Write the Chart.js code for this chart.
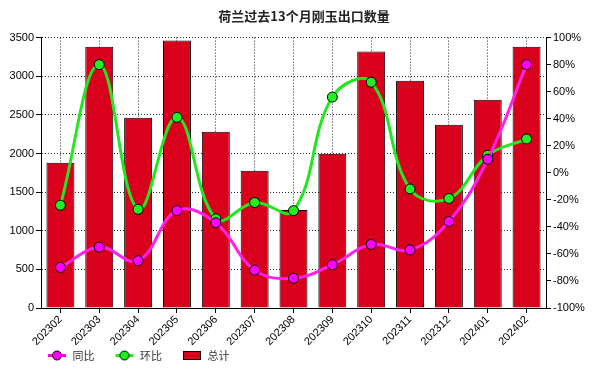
<!DOCTYPE html>
<html><head><meta charset="utf-8">
<script src="https://cdn.jsdelivr.net/npm/chart.js@4/dist/chart.umd.min.js"></script>
<style>html,body{margin:0;padding:0;background:#fff}#c{display:block}</style>
</head><body>
<canvas id="c" width="607" height="374"></canvas>
<script>
const categories = ['202302','202303','202304','202305','202306','202307','202308','202309','202310','202311','202312','202401','202402'];
const totals = [1880,3383,2463,3461,2281,1776,1270,1996,3319,2943,2372,2696,3383];
const yoy = [-70,-55,-65,-28,-37,-72,-78,-68,-53,-57,-36,10,80];
const mom = [-24,80,-27,41,-34,-22,-28,56,67,-12,-19,13,25];
const leftTicks = [0,500,1000,1500,2000,2500,3000,3500];
const rightTicks = [-100,-80,-60,-40,-20,0,20,40,60,80,100];

// legend marker images: 36px wide box, visible marker in the right 18-20px
function marker(color){
  const c=document.createElement('canvas'); c.width=36; c.height=11;
  const x=c.getContext('2d');
  x.strokeStyle=color; x.lineWidth=3; x.beginPath(); x.moveTo(17,5.5); x.lineTo(35,5.5); x.stroke();
  x.beginPath(); x.arc(26,5.5,4.5,0,Math.PI*2); x.fillStyle=color; x.fill(); x.lineWidth=1; x.strokeStyle='#000'; x.stroke();
  return c;
}
function box(){
  const c=document.createElement('canvas'); c.width=36; c.height=9;
  const x=c.getContext('2d');
  x.fillStyle='#d9001b'; x.fillRect(17,0,18,9); x.strokeStyle='#000'; x.lineWidth=1; x.strokeRect(17.5,0.5,17,8);
  return c;
}
const markers=[marker('#ff00ff'),marker('#22ee22'),box()];
const font="'Liberation Sans', Arial, sans-serif";

new Chart(document.getElementById('c'),{
  data:{labels:categories,datasets:[
    {type:'line',label:'同比',data:yoy,yAxisID:'y1',borderColor:'#ff22ee',backgroundColor:'#ff00ff',borderWidth:3,
     pointRadius:5,pointBorderColor:'#000',pointBorderWidth:1,pointBackgroundColor:'#ff00ff',tension:0.4,order:0},
    {type:'line',label:'环比',data:mom,yAxisID:'y1',borderColor:'#22e622',backgroundColor:'#22ee22',borderWidth:3,
     pointRadius:5,pointBorderColor:'#000',pointBorderWidth:1,pointBackgroundColor:'#22ee22',tension:0.4,order:1},
    {type:'bar',label:'总计',data:totals,yAxisID:'y',backgroundColor:'#d9001b',borderColor:'#000',borderWidth:1,
     categoryPercentage:0.72,barPercentage:1,order:2}
  ]},
  options:{
    responsive:false,animation:false,
    layout:{padding:{left:1,right:0,top:0,bottom:0}},
    plugins:{
      title:{display:true,text:'荷兰过去13个月刚玉出口数量',color:'#222',font:{family:"'Noto Sans CJK SC', sans-serif",size:13,weight:'bold'},padding:{top:8,bottom:14}},
      legend:{position:'bottom',align:'start',labels:{usePointStyle:true,pointStyleWidth:36,color:'#333',font:{family:"'Noto Sans CJK SC', sans-serif",size:11},padding:4,
        generateLabels(chart){return chart.data.datasets.map((d,i)=>({text:d.label,pointStyle:markers[i],fillStyle:'#000',strokeStyle:'#000',lineWidth:0,datasetIndex:i,fontColor:'#333'}));}}},
      tooltip:{enabled:false}
    },
    scales:{
      x:{offset:true,grid:{offset:false,display:true,drawOnChartArea:true,color:'rgba(0,0,0,0.85)',tickLength:5,tickColor:'#000'},
         border:{display:true,color:'#000',dash:[1,2]},
         ticks:{color:'#000',font:{family:font,size:11},minRotation:45,maxRotation:45,padding:0,autoSkip:false},
         afterFit(s){s.height=41;}},
      y:{position:'left',min:0,max:3500,
         afterBuildTicks(s){s.ticks=leftTicks.map(v=>({value:v}));},
         grid:{color:'rgba(0,0,0,0.85)',tickColor:'#000',tickLength:5},
         border:{color:'#000',width:1,dash:[1,2]},
         ticks:{color:'#000',font:{family:font,size:11},padding:2,callback:v=>String(v)},
         afterFit(s){s.width=40;}},
      y1:{position:'right',min:-100,max:100,
         afterBuildTicks(s){s.ticks=rightTicks.map(v=>({value:v}));},
         grid:{drawOnChartArea:false,tickColor:'#000',tickLength:5},
         border:{color:'#000',width:1},
         ticks:{color:'#000',font:{family:font,size:11},padding:2,callback:v=>v+'%'},
         afterFit(s){s.width=61;}}
    }
  },
  plugins:[{
    id:'legendShift',
    afterLayout(chart){ const l=chart.legend; if(l){ l.left+=26; l.right+=26; const h=l.height; l.top=346; l.bottom=346+h; } }
  }]
});
</script>
</body></html>
